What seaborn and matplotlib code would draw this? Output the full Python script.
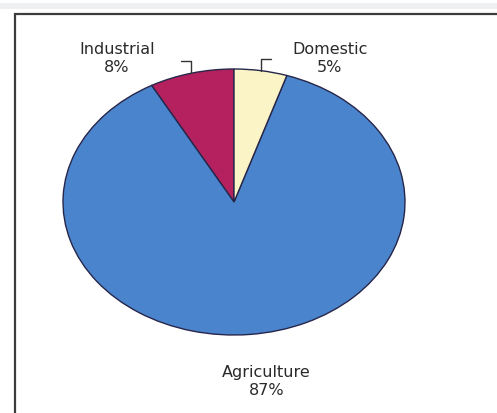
import numpy as np
import matplotlib
matplotlib.use("Agg")
import matplotlib.pyplot as plt
import seaborn as sns
from matplotlib.patches import Rectangle

sns.set_theme(style="white")
plt.rcParams['font.family'] = ['DejaVu Sans']

# Data (counter-clockwise from 12 o'clock)
categories = ["Industrial", "Agriculture", "Domestic"]
values = [8, 87, 5]
colors = ["#b5215e", "#4a84cd", "#fbf4c6"]

W, H = 497, 413
fig = plt.figure(figsize=(W / 100, H / 100), dpi=100)
fig.patch.set_facecolor("white")

# faint top band and frame
fig.add_artist(Rectangle((0, 1 - 9 / H), 1, 6 / H, transform=fig.transFigure,
                         facecolor="#eef0f2", edgecolor="none"))
fig.add_artist(Rectangle((15 / W, -0.05), 1.2, 1 - 14 / H + 0.05,
                         transform=fig.transFigure, facecolor="none",
                         edgecolor="#3c3c3c", linewidth=1.6))

ax = fig.add_axes([63 / W, 1 - 335 / H, 342 / W, 266 / H])
wedges, _ = ax.pie(values, colors=colors, startangle=90, counterclock=True,
                   radius=1.0,
                   wedgeprops=dict(edgecolor="#26264a", linewidth=1.0))
ax.set_aspect("auto")
ax.set_xlim(-1, 1)
ax.set_ylim(-1, 1)
ax.axis("off")

total = sum(values)
label_pos = {"Industrial": (-0.685, 1.08), "Domestic": (0.56, 1.08),
             "Agriculture": (0.19, -1.35)}
for w, cat, v in zip(wedges, categories, values):
    x, y = label_pos[cat]
    ax.text(x, y, f"{cat}\n{round(100 * v / total)}%", ha="center", va="center",
            fontsize=11.5, color="#2a2a2a", linespacing=1.3)
    if cat != "Agriculture":
        mid = np.deg2rad((w.theta1 + w.theta2) / 2)
        px, py = np.cos(mid), np.sin(mid)
        side = -1 if px < 0 else 1
        ax.plot([px, px, px + side * 0.06], [py, py + 0.09, py + 0.09],
                color="#333333", lw=1.0, clip_on=False)

fig.savefig("out.png", dpi=100)
